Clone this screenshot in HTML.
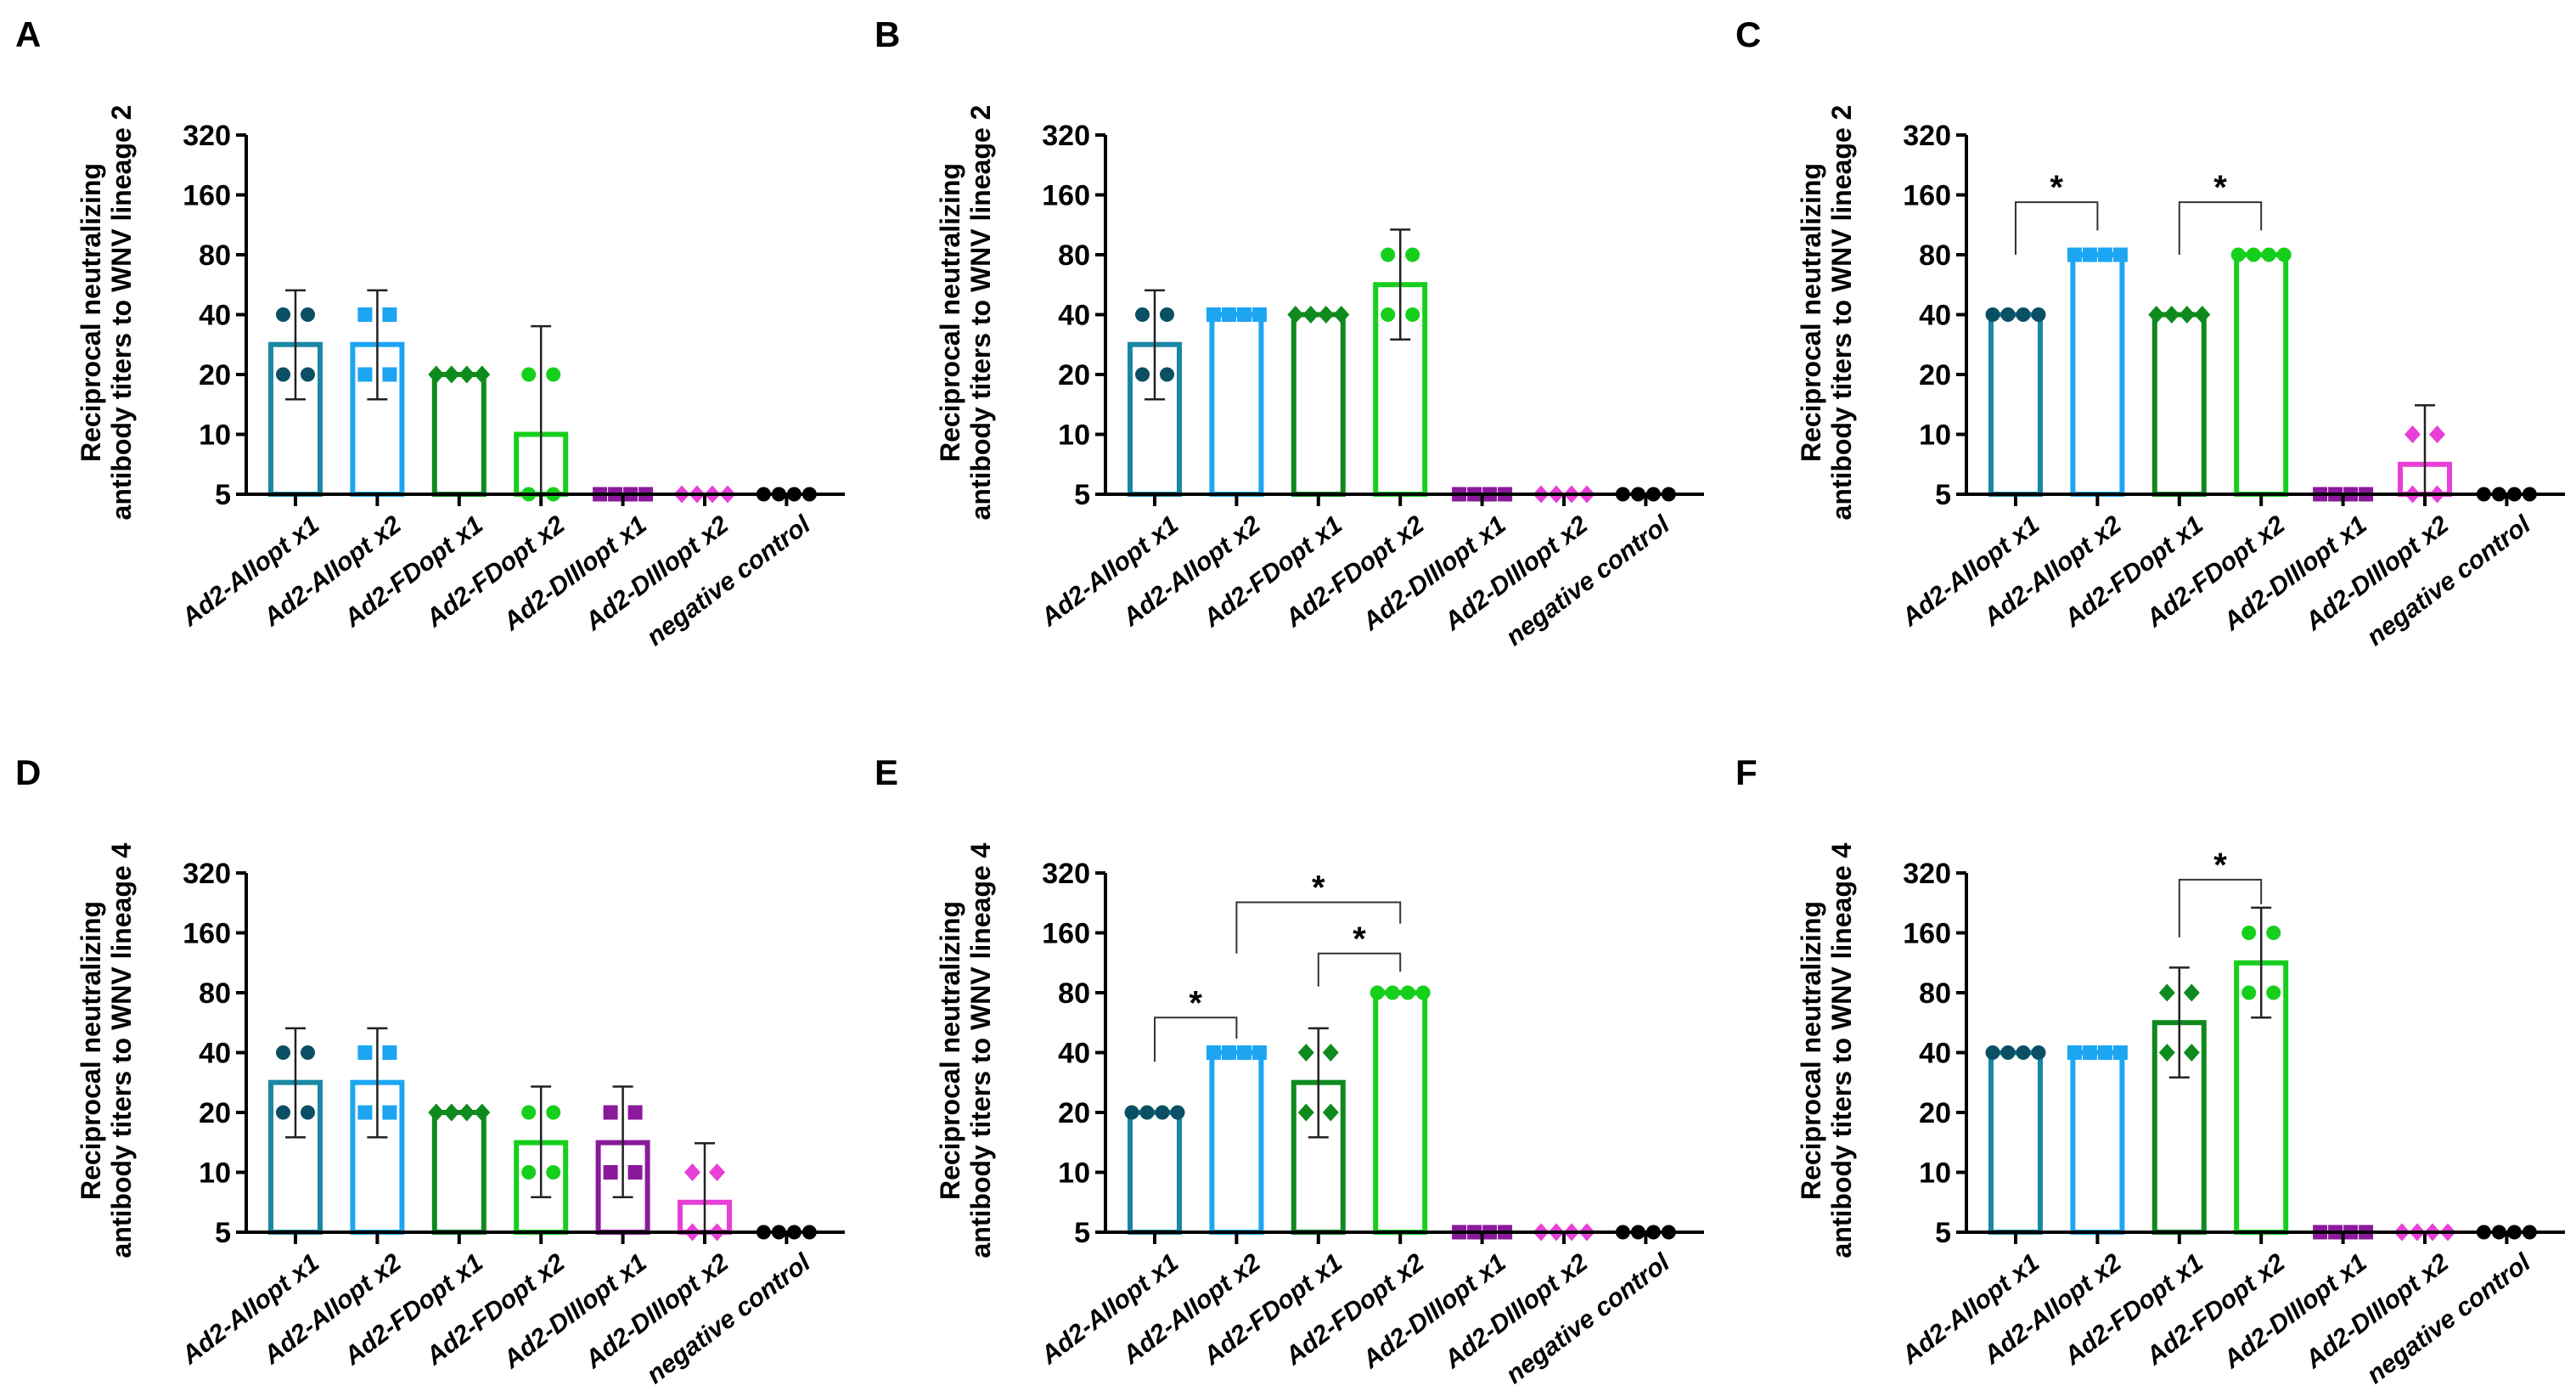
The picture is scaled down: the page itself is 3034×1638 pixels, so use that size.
<!DOCTYPE html>
<html><head><meta charset="utf-8">
<style>
html,body{margin:0;padding:0;background:#fff;}
svg{display:block;font-family:"Liberation Sans",Arial,sans-serif;}
</style></head>
<body>
<svg id="fig" width="3034" height="1638" viewBox="0 0 3034 1638"></svg>
<script>
const categories = ["Ad2-AIIopt x1","Ad2-AIIopt x2","Ad2-FDopt x1","Ad2-FDopt x2","Ad2-DIIIopt x1","Ad2-DIIIopt x2","negative control"];
const yTicks = [5,10,20,40,80,160,320];
const panelLetters = ["A","B","C","D","E","F"];
const yTitles = ["WNV lineage 2","WNV lineage 2","WNV lineage 2","WNV lineage 4","WNV lineage 4","WNV lineage 4"];
// means
const meansA = [28.3,28.3,20,10,5,5,5];
const meansB = [28.3,40,40,56.6,5,5,5];
const meansC = [40,80,40,80,5,7.07,5];
const meansD = [28.3,28.3,20,14.1,14.1,7.07,5];
const meansE = [20,40,28.3,80,5,5,5];
const meansF = [40,40,56.6,113,5,5,5];
// individual points
const pointsA = [[40,40,20,20],[40,40,20,20],[20,20,20,20],[20,20,5,5],[5,5,5,5],[5,5,5,5],[5,5,5,5]];
const pointsB = [[40,40,20,20],[40,40,40,40],[40,40,40,40],[80,80,40,40],[5,5,5,5],[5,5,5,5],[5,5,5,5]];
const pointsC = [[40,40,40,40],[80,80,80,80],[40,40,40,40],[80,80,80,80],[5,5,5,5],[10,10,5,5],[5,5,5,5]];
const pointsD = [[40,40,20,20],[40,40,20,20],[20,20,20,20],[20,20,10,10],[20,20,10,10],[10,10,5,5],[5,5,5,5]];
const pointsE = [[20,20,20,20],[40,40,40,40],[40,40,20,20],[80,80,80,80],[5,5,5,5],[5,5,5,5],[5,5,5,5]];
const pointsF = [[40,40,40,40],[40,40,40,40],[80,80,40,40],[160,160,80,80],[5,5,5,5],[5,5,5,5],[5,5,5,5]];
// error bars (0 = none, -1 = to axis)
const errLoA = [15,15,0,-1,0,0,0], errHiA = [53,53,0,35,0,0,0];
const errLoB = [15,0,0,30,0,0,0], errHiB = [53,0,0,107,0,0,0];
const errLoC = [0,0,0,0,0,-1,0], errHiC = [0,0,0,0,0,14,0];
const errLoD = [15,15,0,7.5,7.5,-1,0], errHiD = [53,53,0,27,27,14,0];
const errLoE = [0,0,15,0,0,0,0], errHiE = [0,0,53,0,0,0,0];
const errLoF = [0,0,30,60,0,0,0], errHiF = [0,0,107,214,0,0,0];
// significance brackets: [groupA, groupB, top value, left leg value, right leg value]
const bracketsA = [], bracketsB = [], bracketsD = [];
const bracketsC = [[0,1,147,80,106],[2,3,147,80,106]];
const bracketsE = [[0,1,60,36,47],[1,3,228,126,178],[2,3,126,86,102]];
const bracketsF = [[2,3,296,152,223]];

const allMeans=[meansA,meansB,meansC,meansD,meansE,meansF];
const allPoints=[pointsA,pointsB,pointsC,pointsD,pointsE,pointsF];
const allLo=[errLoA,errLoB,errLoC,errLoD,errLoE,errLoF];
const allHi=[errHiA,errHiB,errHiC,errHiD,errHiE,errHiF];
const allBr=[bracketsA,bracketsB,bracketsC,bracketsD,bracketsE,bracketsF];

const barColors=["#1a87a3","#1ca6f2","#0f8a1e","#16cf1c","#8a1a9b","#e83fd6","#000"];
const ptColors=["#0a4f63","#1ca6f2","#0f8a1e","#16cf1c","#8a1a9b","#e83fd6","#000"];
const shapes=["circle","square","diamond","circle","square","diamond","circle"];

const NS="http://www.w3.org/2000/svg";
const svg=document.getElementById('fig');
function mk(tag,attrs,parent){const e=document.createElementNS(NS,tag);for(const k in attrs)e.setAttribute(k,attrs[k]);(parent||svg).appendChild(e);return e;}

const colX=[290,1302,2316];
const rowBase=[582,1451];
const STEP=70.5, BSP=96.4, B0=58, BW=58, AXLEN=705;

for(let p=0;p<6;p++){
  const ax=colX[p%3], base=rowBase[Math.floor(p/3)];
  const y=v=>base-Math.log2(v/5)*STEP;
  const xc=i=>ax+B0+i*BSP;
  const g=mk('g',{});
  
  

  const L=mk('text',{x:ax-272,y:base-527,'font-size':42,'font-weight':'bold'},g);
  L.textContent=panelLetters[p];
  
  

  const t=mk('text',{transform:`translate(${ax-168},${base-214}) rotate(-90)`,'text-anchor':'middle','font-size':32,'font-weight':'bold'},g);
  
  
  const t1=mk('tspan',{x:0,dy:-4},t); t1.textContent='Reciprocal neutralizing';
  const t2=mk('tspan',{x:0,dy:36},t); t2.textContent='antibody titers to '+yTitles[p];

  const ya=mk('line',{x1:ax,y1:base,x2:ax,y2:y(320),stroke:'#000','stroke-width':4},g);
  
  
  yTicks.forEach(v=>{
    mk('line',{x1:ax-12,y1:y(v),x2:ax,y2:y(v),stroke:'#000','stroke-width':4},g);
    const tl=mk('text',{x:ax-18,y:y(v)+12,'text-anchor':'end','font-size':34,'font-weight':'bold'},g);
    tl.textContent=v;
    
    
  });

  const means=allMeans[p], pts=allPoints[p], lo=allLo[p], hi=allHi[p];
  categories.forEach((c,i)=>{
    const cx=xc(i);
    if(means[i]>5){
      const b=mk('rect',{x:cx-BW/2,y:y(means[i]),width:BW,height:base-y(means[i]),fill:'none',stroke:barColors[i],'stroke-width':6},g);
      
      
    }
    const groups={};
    pts[i].forEach(v=>{groups[v]=(groups[v]||0)+1;});
    Object.keys(groups).forEach(k=>{
      const v=+k,n=groups[k];
      const sp=n>=4?18:29;
      for(let j=0;j<n;j++){
        const px=cx+(j-(n-1)/2)*sp, py=y(v), r=8.5;
        let m;
        if(shapes[i]==='circle') m=mk('circle',{cx:px,cy:py,r:r,fill:ptColors[i]},g);
        else if(shapes[i]==='square') m=mk('rect',{x:px-r,y:py-r,width:2*r,height:2*r,fill:ptColors[i]},g);
        else m=mk('polygon',{points:`${px},${py-r-2} ${px+r+1},${py} ${px},${py+r+2} ${px-r-1},${py}`,fill:ptColors[i]},g);
        
        
      }
    });
    if(hi[i]){
      const yl=lo[i]===-1?base:y(lo[i]), yh=y(hi[i]);
      const e=mk('path',{d:`M${cx},${yl}V${yh}M${cx-12},${yh}H${cx+12}`+(lo[i]===-1?'':`M${cx-12},${yl}H${cx+12}`),stroke:'#222','stroke-width':2.5,fill:'none'},g);
      
      
    }
    mk('line',{x1:cx,y1:base,x2:cx,y2:base+14,stroke:'#000','stroke-width':4},g);
    const xl=mk('text',{transform:`translate(${cx+30},${base+40}) rotate(-37)`,'text-anchor':'end','font-size':30,'font-weight':'bold','font-style':'italic'},g);
    xl.textContent=c;
    
    
  });
  const xa=mk('line',{x1:ax-4,y1:base,x2:ax+AXLEN,y2:base,stroke:'#000','stroke-width':4},g);
  
  

  allBr[p].forEach(br=>{
    const xa1=xc(br[0]),xb=xc(br[1]),yt=y(br[2]);
    const bp=mk('path',{d:`M${xa1},${y(br[3])}V${yt}H${xb}V${y(br[4])}`,stroke:'#333','stroke-width':2,fill:'none'},g);
    
    
    const st=mk('text',{x:(xa1+xb)/2,y:yt-4,'text-anchor':'middle','font-size':40,'font-weight':'bold'},g);
    st.textContent='*';
    
    
  });
}
</script>
</body></html>
